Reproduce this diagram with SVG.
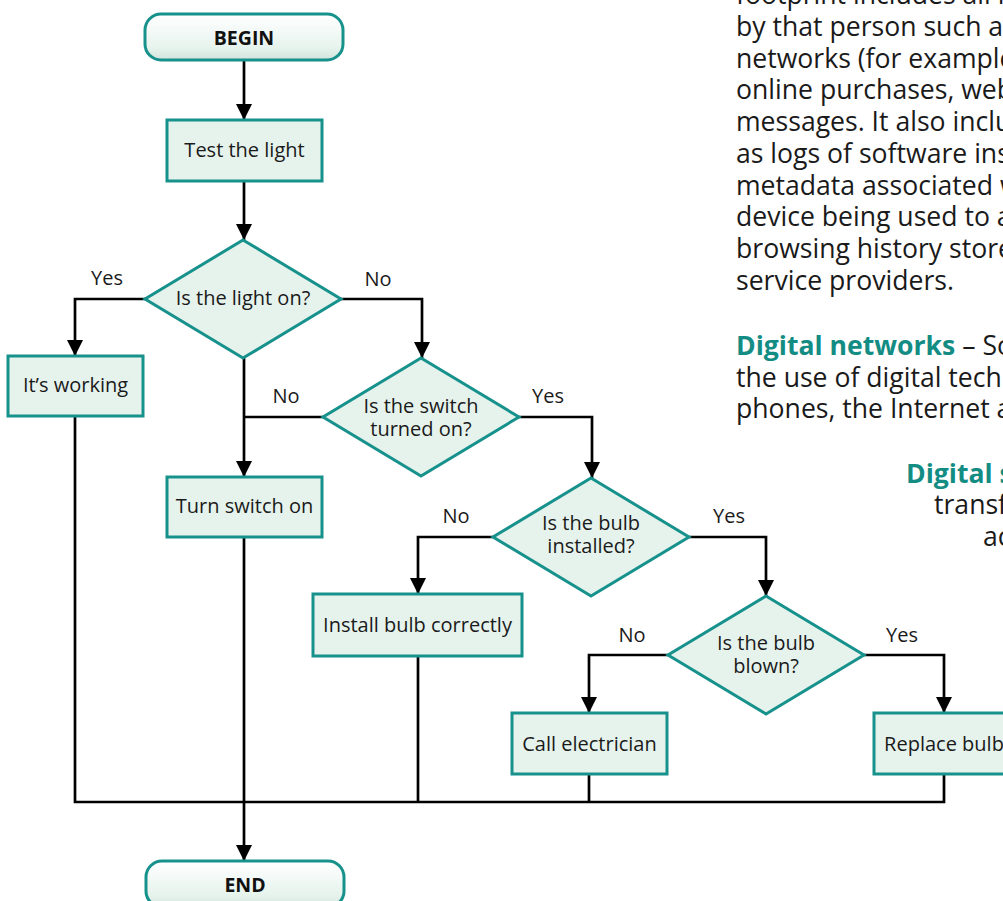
<svg xmlns="http://www.w3.org/2000/svg" width="1003" height="901" viewBox="0 0 1003 901">
<style>
.box{fill:#e6f3ed;stroke:#16918b;stroke-width:3}
.term{fill:url(#tg);stroke:#16918b;stroke-width:3}
.t{font-family:"Open Sans","Noto Sans","DejaVu Sans",sans-serif;font-size:20px;fill:#1a1a1a;text-anchor:middle}
.tb{font-family:"Open Sans","Noto Sans","DejaVu Sans",sans-serif;font-size:19.5px;font-weight:bold;fill:#111;text-anchor:middle}
.lbl{font-family:"Open Sans","Noto Sans","DejaVu Sans",sans-serif;font-size:20px;fill:#1a1a1a;text-anchor:middle}
.c{fill:none;stroke:#000;stroke-width:2.7}
.body{font-family:"Open Sans","Noto Sans","DejaVu Sans",sans-serif;font-size:26.6px;fill:#1a1a1a}
.hl{font-weight:bold;fill:#138c84}
</style>
<defs>
<linearGradient id="tg" x1="0" y1="0" x2="0" y2="1">
<stop offset="0" stop-color="#ffffff"/>
<stop offset="0.75" stop-color="#e6f3ed"/>
<stop offset="1" stop-color="#d3e3dc"/>
</linearGradient>
<marker id="ah" viewBox="0 0 10 10" refX="10" refY="5" markerWidth="16" markerHeight="16" markerUnits="userSpaceOnUse" orient="auto">
<path d="M0,0 L10,5 L0,10 z" fill="#000"/>
</marker>
</defs>
<rect width="1003" height="901" fill="#fff"/>

<g id="side-text" class="body">
<text x="736" y="4">footprint includes all i</text>
<text x="736" y="36">by that person such as</text>
<text x="736" y="67.7">networks (for example</text>
<text x="736" y="99.4">online purchases, web</text>
<text x="736" y="131">messages. It also inclu</text>
<text x="736" y="163">as logs of software ins</text>
<text x="736" y="194.5">metadata associated w</text>
<text x="736" y="226">device being used to a</text>
<text x="736" y="258">browsing history store</text>
<text x="736" y="289.5">service providers.</text>
<text x="736" y="355"><tspan class="hl">Digital networks</tspan> – So</text>
<text x="736" y="387">the use of digital tech</text>
<text x="736" y="418">phones, the Internet a</text>
<text x="906" y="483"><tspan class="hl">Digital s</tspan></text>
<text x="934" y="514">transf</text>
<text x="983" y="546">ac</text>
</g>

<g id="connectors">
<path class="c" d="M244,60 V120" marker-end="url(#ah)"/>
<path class="c" d="M244,181 V240" marker-end="url(#ah)"/>
<path class="c" d="M145,299 H75 V356" marker-end="url(#ah)"/>
<path class="c" d="M341,299 H422 V358" marker-end="url(#ah)"/>
<path class="c" d="M244,358 V477" marker-end="url(#ah)"/>
<path class="c" d="M323,417 H244"/>
<path class="c" d="M519,417 H592 V478" marker-end="url(#ah)"/>
<path class="c" d="M493,537 H418 V594" marker-end="url(#ah)"/>
<path class="c" d="M689,537 H766 V596" marker-end="url(#ah)"/>
<path class="c" d="M668,655 H589 V713" marker-end="url(#ah)"/>
<path class="c" d="M864,655 H944 V713" marker-end="url(#ah)"/>
<path class="c" d="M75,416 V802 H944 V774"/>
<path class="c" d="M418,656 V802"/>
<path class="c" d="M589,774 V802"/>
<path class="c" d="M244,537 V861" marker-end="url(#ah)"/>
<text class="lbl" x="107" y="285">Yes</text>
<text class="lbl" x="378" y="286">No</text>
<text class="lbl" x="286" y="403">No</text>
<text class="lbl" x="548" y="403">Yes</text>
<text class="lbl" x="456" y="523">No</text>
<text class="lbl" x="729" y="523">Yes</text>
<text class="lbl" x="632" y="642">No</text>
<text class="lbl" x="902" y="642">Yes</text>
</g>

<g id="begin">
<rect class="term" x="145" y="14" width="198" height="46" rx="16"/>
<text class="tb" x="244" y="45">BEGIN</text>
</g>
<g id="test-light">
<rect class="box" x="167" y="120" width="155" height="61"/>
<text class="t" x="244.5" y="157">Test the light</text>
</g>
<g id="light-on">
<polygon class="box" points="243,240 341,299 243,358 145,299"/>
<text class="t" x="243" y="305">Is the light on?</text>
</g>
<g id="its-working">
<rect class="box" x="8" y="356" width="135" height="60"/>
<text class="t" x="75.5" y="392">It’s working</text>
</g>
<g id="switch-on">
<polygon class="box" points="421,358 519,417 421,476 323,417"/>
<text class="t" x="421" y="413">Is the switch<tspan x="421" dy="23">turned on?</tspan></text>
</g>
<g id="turn-switch">
<rect class="box" x="167" y="477" width="155" height="60"/>
<text class="t" x="244.5" y="513">Turn switch on</text>
</g>
<g id="bulb-installed">
<polygon class="box" points="591,478 689,537 591,596 493,537"/>
<text class="t" x="591" y="530">Is the bulb<tspan x="591" dy="23">installed?</tspan></text>
</g>
<g id="install-bulb">
<rect class="box" x="313" y="594" width="209" height="62"/>
<text class="t" x="417.5" y="632">Install bulb correctly</text>
</g>
<g id="bulb-blown">
<polygon class="box" points="766,596 864,655 766,714 668,655"/>
<text class="t" x="766" y="650">Is the bulb<tspan x="766" dy="23">blown?</tspan></text>
</g>
<g id="call-electrician">
<rect class="box" x="512" y="713" width="155" height="61"/>
<text class="t" x="589.5" y="751">Call electrician</text>
</g>
<g id="replace-bulb">
<rect class="box" x="874" y="713" width="140" height="61"/>
<text class="t" x="944" y="751">Replace bulb</text>
</g>
<g id="end">
<rect class="term" x="146" y="861" width="198" height="46" rx="16"/>
<text class="tb" x="245" y="892">END</text>
</g>
</svg>
